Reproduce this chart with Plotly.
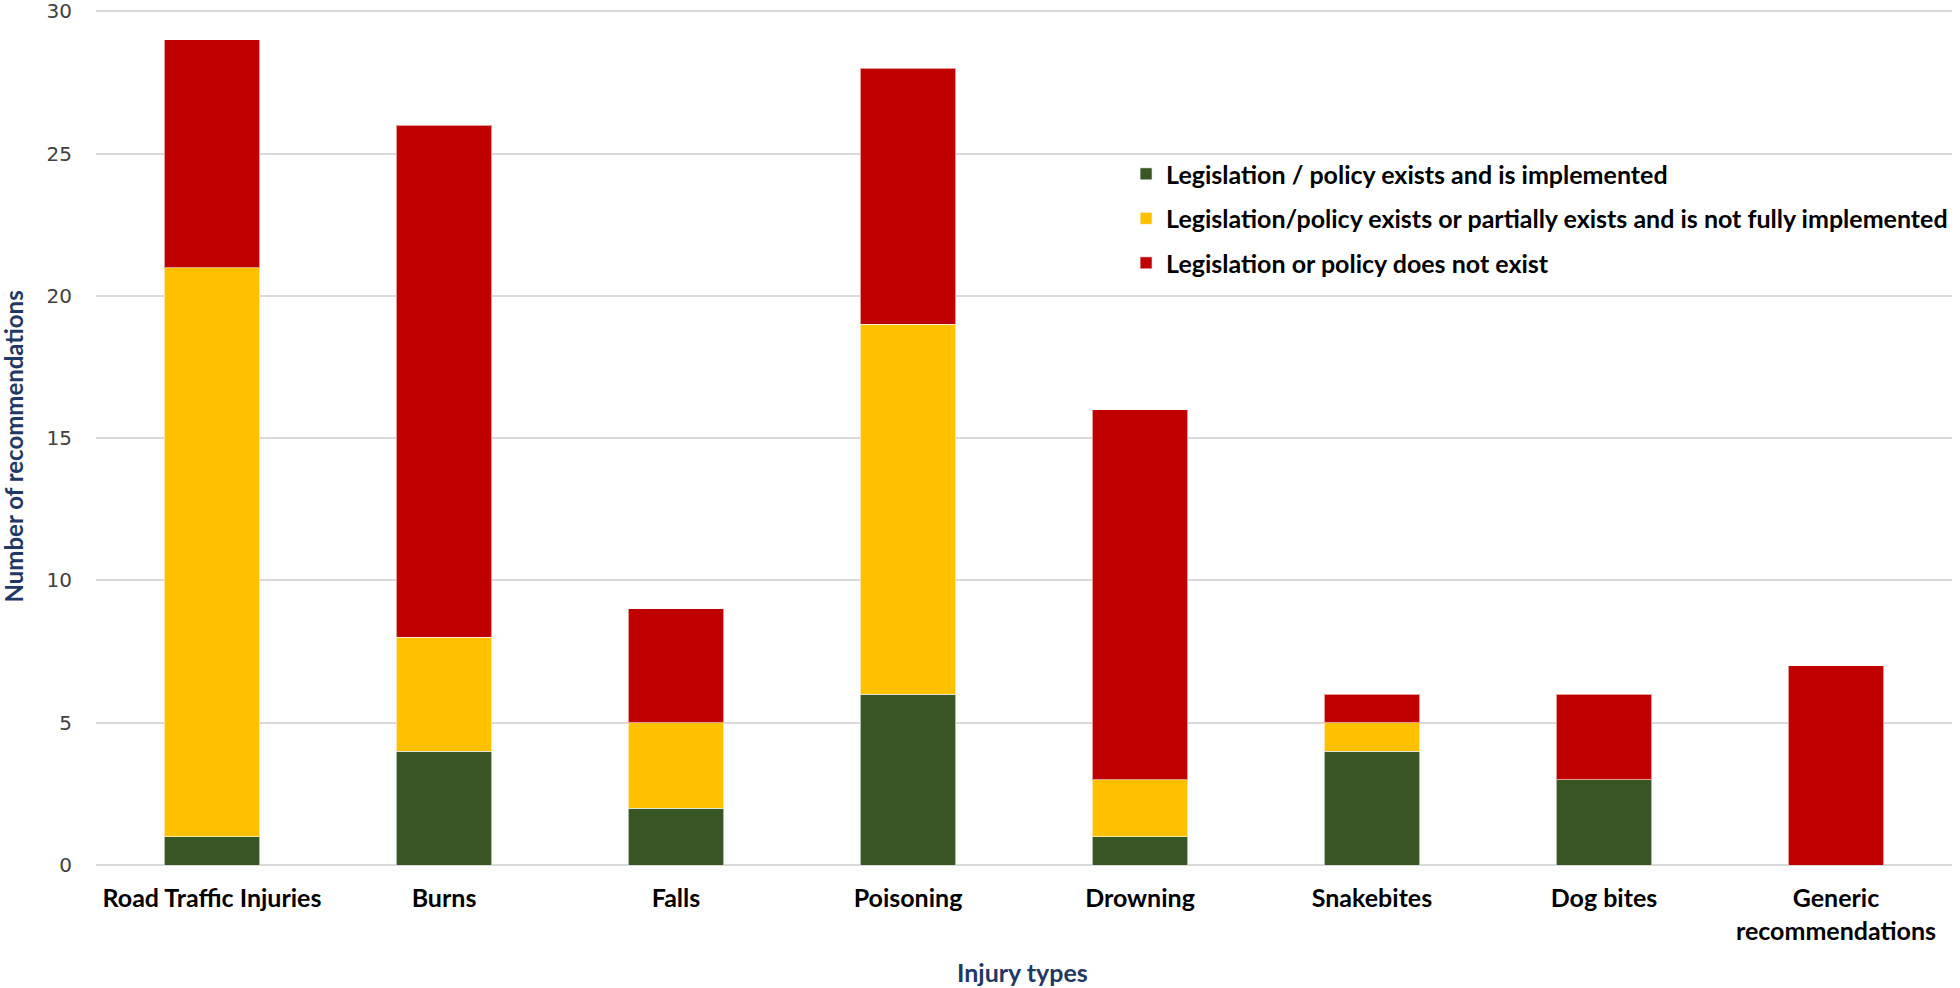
import plotly.graph_objects as go

categories = ["Road Traffic Injuries", "Burns", "Falls", "Poisoning", "Drowning",
              "Snakebites", "Dog bites", "Generic<br>recommendations"]
implemented = [1, 4, 2, 6, 1, 4, 3, 0]
partial = [20, 4, 3, 13, 2, 1, 0, 0]
not_exist = [8, 18, 4, 9, 13, 1, 3, 7]

series_names = ["Legislation / policy exists and is implemented",
                "Legislation/policy exists or partially exists and is not fully implemented",
                "Legislation or policy does not exist"]
colors = ["#375623", "#FFC000", "#C00000"]
y_ticks = [0, 5, 10, 15, 20, 25, 30]

FONT = "Lato, Roboto, sans-serif"
FS = 25

fig = go.Figure()
for i, (name, vals, col) in enumerate(zip(series_names, [implemented, partial, not_exist], colors)):
    fig.add_trace(go.Bar(
        x=categories, y=vals, name=name, legendgroup=str(i),
        marker=dict(color=col, line=dict(color="rgba(255,255,255,0.6)", width=1)),
    ))

fig.update_layout(
    barmode="stack",
    bargap=0.59,
    width=1960, height=988,
    margin=dict(l=96, r=8, t=10, b=123, autoexpand=False),
    plot_bgcolor="white", paper_bgcolor="white",
    font=dict(family=FONT, size=FS, color="black"),
    showlegend=True,
    legend=dict(
        x=0.555, y=0.835, xanchor="left", yanchor="top",
        traceorder="grouped", tracegroupgap=9,
        font=dict(family=FONT, size=FS, color="black", weight="bold"),
        bgcolor="rgba(0,0,0,0)",
    ),
    xaxis=dict(
        showgrid=False, showline=False, zeroline=False,
        tickfont=dict(family=FONT, size=FS, color="black", weight="bold"),
        ticklabelstandoff=16,
        automargin=False,
    ),
    yaxis=dict(
        range=[0, 30.05], tickvals=y_ticks,
        showgrid=True, gridcolor="#D9D9D9", gridwidth=1.5,
        zeroline=True, zerolinecolor="#D9D9D9", zerolinewidth=1.5,
        showline=False,
        tickfont=dict(family="DejaVu Sans", size=20, color="#404040"),
        ticklabelstandoff=23,
        ticklabeloverflow="allow",
        automargin=False,
    ),
    annotations=[
        dict(text="Number of recommendations", textangle=-90,
             xref="paper", yref="paper", x=-0.0445, y=0.49, xanchor="center", yanchor="middle",
             showarrow=False, font=dict(family=FONT, size=24, color="#1F3864", weight="bold")),
        dict(text="Injury types",
             xref="paper", yref="paper", x=0.499, y=-0.125, xanchor="center", yanchor="middle",
             showarrow=False, font=dict(family=FONT, size=FS, color="#1F3864", weight="bold")),
    ],
)

# remove the default 8px page margin so the figure fills the window exactly
fig.write_html("out.html", config={"displayModeBar": False},
               post_script="document.body.style.margin='0';")
